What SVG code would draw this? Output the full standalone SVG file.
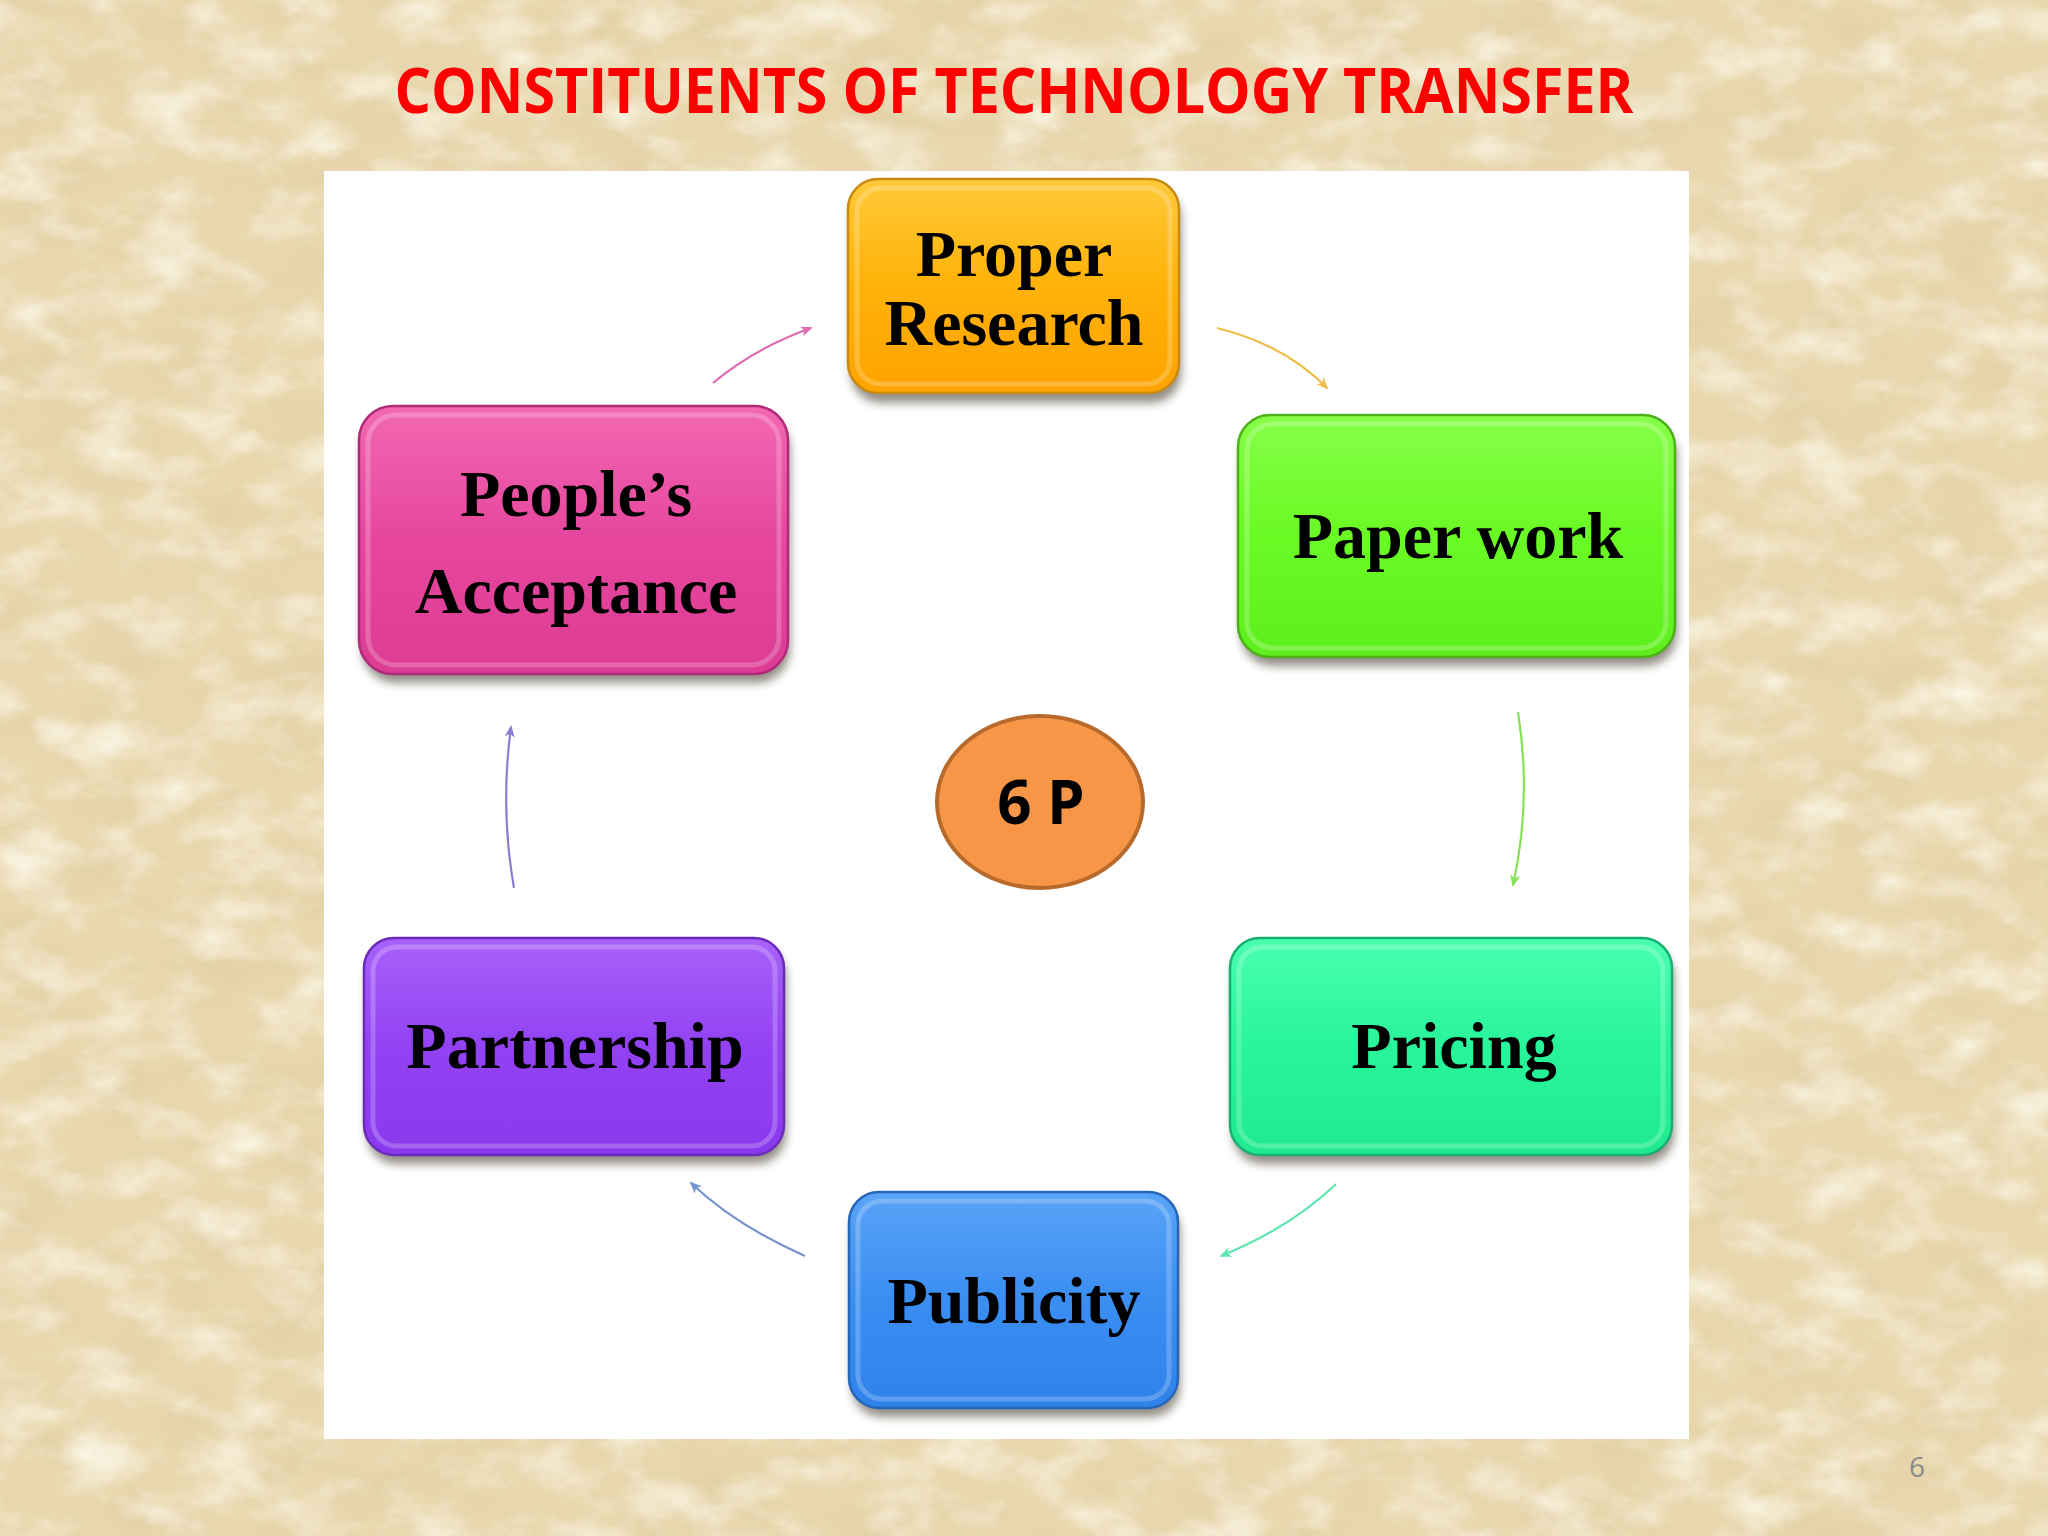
<svg xmlns="http://www.w3.org/2000/svg" width="2048" height="1536" viewBox="0 0 2048 1536">
<defs>
<style>
.lbl{font-family:"Liberation Serif","Times New Roman",serif;font-weight:bold;font-size:66px;text-anchor:middle;fill:#000}
.title{font-family:"Open Sans","Liberation Sans",sans-serif;font-weight:bold;font-size:63px;fill:#FF0000;text-anchor:middle}
.conn{fill:none;stroke-width:2.2}
.box{stroke-width:2.5}
.bevel{fill:none;stroke:#fff;stroke-opacity:0.22;stroke-width:5}
.shadow{fill:#3a3020;opacity:0.55}
</style>
<filter id="dark" x="0" y="0" width="100%" height="100%">
<feTurbulence type="fractalNoise" baseFrequency="0.012 0.02" numOctaves="5" seed="7"/>
<feColorMatrix type="matrix" values="0 0 0 0 0.76  0 0 0 0 0.63  0 0 0 0 0.38  2.0 0 0 0 -0.88"/>
</filter>
<filter id="light" x="0" y="0" width="100%" height="100%">
<feTurbulence type="fractalNoise" baseFrequency="0.015 0.025" numOctaves="5" seed="21"/>
<feColorMatrix type="matrix" values="0 0 0 0 0.96  0 0 0 0 0.92  0 0 0 0 0.79  2.0 0 0 0 -0.88"/>
</filter>
<filter id="blur" x="-10%" y="-10%" width="120%" height="130%">
<feGaussianBlur stdDeviation="5"/>
</filter>
<linearGradient id="gOr" x1="0" y1="0" x2="0" y2="1"><stop offset="0" stop-color="#FFC93A"/><stop offset="0.5" stop-color="#FFB208"/><stop offset="1" stop-color="#FFA300"/></linearGradient>
<linearGradient id="gGr" x1="0" y1="0" x2="0" y2="1"><stop offset="0" stop-color="#86FF48"/><stop offset="0.5" stop-color="#6AFA24"/><stop offset="1" stop-color="#5EEE1C"/></linearGradient>
<linearGradient id="gMi" x1="0" y1="0" x2="0" y2="1"><stop offset="0" stop-color="#4AFFB0"/><stop offset="0.5" stop-color="#28F59A"/><stop offset="1" stop-color="#20EA8E"/></linearGradient>
<linearGradient id="gBl" x1="0" y1="0" x2="0" y2="1"><stop offset="0" stop-color="#5AA3F7"/><stop offset="0.5" stop-color="#3A8EF2"/><stop offset="1" stop-color="#2F82EA"/></linearGradient>
<linearGradient id="gPu" x1="0" y1="0" x2="0" y2="1"><stop offset="0" stop-color="#A862FA"/><stop offset="0.5" stop-color="#9242F2"/><stop offset="1" stop-color="#8A3AEC"/></linearGradient>
<linearGradient id="gPk" x1="0" y1="0" x2="0" y2="1"><stop offset="0" stop-color="#F268B2"/><stop offset="0.5" stop-color="#E6469E"/><stop offset="1" stop-color="#DC3C94"/></linearGradient>
<marker id="aOr" markerWidth="12" markerHeight="10" refX="10" refY="5" orient="auto" markerUnits="userSpaceOnUse"><path d="M0,0 L12,5 L0,10 L3,5 z" fill="#F0BE48"/></marker>
<marker id="aGr" markerWidth="12" markerHeight="10" refX="10" refY="5" orient="auto" markerUnits="userSpaceOnUse"><path d="M0,0 L12,5 L0,10 L3,5 z" fill="#86E058"/></marker>
<marker id="aMi" markerWidth="12" markerHeight="10" refX="10" refY="5" orient="auto" markerUnits="userSpaceOnUse"><path d="M0,0 L12,5 L0,10 L3,5 z" fill="#5CE6AE"/></marker>
<marker id="aBl" markerWidth="12" markerHeight="10" refX="10" refY="5" orient="auto" markerUnits="userSpaceOnUse"><path d="M0,0 L12,5 L0,10 L3,5 z" fill="#7494CF"/></marker>
<marker id="aPu" markerWidth="12" markerHeight="10" refX="10" refY="5" orient="auto" markerUnits="userSpaceOnUse"><path d="M0,0 L12,5 L0,10 L3,5 z" fill="#8C7ED4"/></marker>
<marker id="aPk" markerWidth="12" markerHeight="10" refX="10" refY="5" orient="auto" markerUnits="userSpaceOnUse"><path d="M0,0 L12,5 L0,10 L3,5 z" fill="#E06AB0"/></marker>
</defs>

<g id="background">
<rect x="0" y="0" width="2048" height="1536" fill="#E9D8AF"/>
<rect x="0" y="0" width="2048" height="1536" filter="url(#dark)"/>
<rect x="0" y="0" width="2048" height="1536" filter="url(#light)"/>
</g>

<text id="title" class="title" x="1014" y="113" textLength="1239" lengthAdjust="spacingAndGlyphs">CONSTITUENTS OF TECHNOLOGY TRANSFER</text>

<rect id="panel" x="324" y="171" width="1365" height="1268" fill="#FFFFFF"/>

<g id="connectors">
<path class="conn" stroke="#F0BE48" marker-end="url(#aOr)" d="M1217,328 Q1285,345 1327,388"/>
<path class="conn" stroke="#86E058" marker-end="url(#aGr)" d="M1518,712 Q1532,800 1513,885"/>
<path class="conn" stroke="#5CE6AE" marker-end="url(#aMi)" d="M1336,1184 Q1290,1228 1221,1256"/>
<path class="conn" stroke="#7494CF" marker-end="url(#aBl)" d="M805,1256 Q735,1225 691,1183"/>
<path class="conn" stroke="#8C7ED4" marker-end="url(#aPu)" d="M514,888 Q500,808 511,727"/>
<path class="conn" stroke="#E06AB0" marker-end="url(#aPk)" d="M713,383 Q755,348 811,328"/>
</g>

<g id="node-proper-research">
<rect class="shadow" x="851" y="188" width="330" height="215" rx="30" filter="url(#blur)"/>
<rect class="box" x="848" y="179" width="331" height="214" rx="30" fill="url(#gOr)" stroke="#C98A10"/>
<rect class="bevel" x="857" y="188" width="313" height="196" rx="24"/>
<text class="lbl" x="1014" y="276">Proper</text>
<text class="lbl" x="1014" y="345">Research</text>
</g>

<g id="node-paper-work">
<rect class="shadow" x="1241" y="424" width="436" height="242" rx="32" filter="url(#blur)"/>
<rect class="box" x="1238" y="415" width="437" height="242" rx="32" fill="url(#gGr)" stroke="#4CB018"/>
<rect class="bevel" x="1247" y="424" width="419" height="224" rx="26"/>
<text class="lbl" x="1458" y="558">Paper work</text>
</g>

<g id="node-pricing">
<rect class="shadow" x="1233" y="947" width="441" height="217" rx="30" filter="url(#blur)"/>
<rect class="box" x="1230" y="938" width="442" height="217" rx="30" fill="url(#gMi)" stroke="#18B072"/>
<rect class="bevel" x="1239" y="947" width="424" height="199" rx="24"/>
<text class="lbl" x="1454" y="1068">Pricing</text>
</g>

<g id="node-publicity">
<rect class="shadow" x="852" y="1201" width="328" height="216" rx="30" filter="url(#blur)"/>
<rect class="box" x="849" y="1192" width="329" height="216" rx="30" fill="url(#gBl)" stroke="#2466B8"/>
<rect class="bevel" x="858" y="1201" width="311" height="198" rx="24"/>
<text class="lbl" x="1014" y="1323">Publicity</text>
</g>

<g id="node-partnership">
<rect class="shadow" x="367" y="947" width="419" height="217" rx="30" filter="url(#blur)"/>
<rect class="box" x="364" y="938" width="420" height="217" rx="30" fill="url(#gPu)" stroke="#6A2CB8"/>
<rect class="bevel" x="373" y="947" width="402" height="199" rx="24"/>
<text class="lbl" x="575" y="1068">Partnership</text>
</g>

<g id="node-peoples-acceptance">
<rect class="shadow" x="362" y="415" width="428" height="268" rx="34" filter="url(#blur)"/>
<rect class="box" x="359" y="406" width="429" height="268" rx="34" fill="url(#gPk)" stroke="#B02A78"/>
<rect class="bevel" x="368" y="415" width="411" height="250" rx="28"/>
<text class="lbl" x="576" y="516">People’s</text>
<text class="lbl" x="576" y="613">Acceptance</text>
</g>

<g id="node-6p">
<ellipse cx="1040" cy="802" rx="103" ry="86" fill="#F79646" stroke="#B86A2C" stroke-width="4"/>
<text x="1041" y="824" font-family="'Open Sans','Liberation Sans',sans-serif" font-weight="bold" font-size="60" text-anchor="middle" fill="#000">6 P</text>
</g>

<text id="page-number" x="1917" y="1477" font-family="'Open Sans','Liberation Sans',sans-serif" font-size="28" text-anchor="middle" fill="#8A8A8A">6</text>
</svg>
